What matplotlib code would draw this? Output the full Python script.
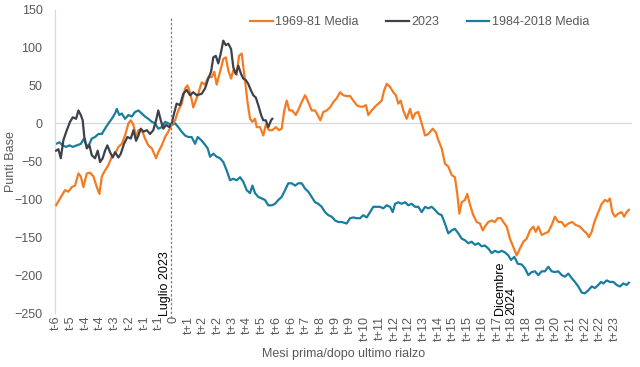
import matplotlib
matplotlib.use("Agg")
import matplotlib.pyplot as plt

plt.rcParams['font.family'] = ['Liberation Sans', 'DejaVu Sans']

# x positions are in tick-label units (0 = "t-6", 38 = "t+23")
tick_labels = ["t-6", "t-5", "t-4", "t-4", "t-3", "t-2", "t-1", "t-1", "0",
               "t+1", "t+2", "t+2", "t+3", "t+4", "t+5", "t+6", "t+6", "t+7",
               "t+8", "t+9", "t+9", "t+10", "t+11", "t+12", "t+12", "t+13",
               "t+14", "t+15", "t+15", "t+16", "t+17", "t+18", "t+18", "t+19",
               "t+20", "t+21", "t+22", "t+22", "t+23"]

orange_x = [0.00, 0.27, 0.61, 0.84, 1.07, 1.29, 1.52, 1.68, 1.86, 2.09, 2.31, 2.54, 2.77, 2.95,
            3.11, 3.33, 3.56, 3.79, 4.01, 4.24, 4.47, 4.69, 4.92, 5.08, 5.26, 5.44, 5.60, 5.83,
            6.05, 6.27, 6.51, 6.80, 6.95, 7.19, 7.41, 7.63, 7.86, 8.09, 8.31, 8.54, 8.77, 8.93,
            9.11, 9.33, 9.57, 9.67, 9.90, 10.13, 10.35, 10.58, 10.76, 10.92, 11.15, 11.37, 11.54,
            11.71, 11.90, 12.05, 12.28, 12.44, 12.62, 12.73, 12.90, 13.03, 13.19, 13.35, 13.53,
            13.64, 13.87, 14.09, 14.26, 14.48, 14.70, 14.94, 15.16, 15.34, 15.52, 15.68, 15.86,
            16.06, 16.30, 16.52, 16.70, 16.93, 17.15, 17.38, 17.61, 17.79, 17.97, 18.17, 18.40,
            18.63, 18.85, 19.08, 19.31, 19.53, 19.76, 19.99, 20.21, 20.44, 20.67, 20.89, 21.07,
            21.23, 21.46, 21.69, 21.91, 22.14, 22.30, 22.48, 22.71, 22.93, 23.11, 23.27, 23.43,
            23.61, 23.84, 24.07, 24.25, 24.41, 24.63, 24.86, 25.09, 25.31, 25.61, 25.83, 25.99,
            26.22, 26.44, 26.67, 26.90, 27.12, 27.28, 27.42, 27.58, 27.80, 27.96, 28.14, 28.37,
            28.60, 28.82, 29.01, 29.23, 29.39, 29.62, 29.84, 30.03, 30.25, 30.41, 30.64, 30.86,
            31.09, 31.32, 31.54, 31.77, 32.00, 32.22, 32.45, 32.61, 32.79, 33.02, 33.24, 33.47,
            33.70, 33.92, 34.15, 34.38, 34.60, 34.83, 35.10, 35.33, 35.62, 35.85, 36.08, 36.23,
            36.42, 36.60, 36.87, 37.10, 37.32, 37.50, 37.66, 37.82, 38.00, 38.22, 38.45, 38.63,
            38.79, 38.95]
orange_y = [-108, -99, -88, -90, -84, -82, -66, -70, -84, -66, -65, -70, -84, -93,
            -70, -62, -55, -44, -40, -31, -27, -16, 0, 4, -2, -18, -9, -9,
            -20, -29, -33, -46, -38, -29, -18, -11, -2, 4, 17, 26, 46, 50,
            41, 21, 34, 39, 54, 51, 61, 61, 68, 51, 68, 85, 87,
            70, 59, 70, 64, 89, 92, 75, 48, 26, 6, 2, 6,
            -5, -5, -16, -2, -9, -9, -5, -9, -7, 17, 30, 17,
            17, 11, 20, 28, 37, 28, 17, 17, 11, 4, 15, 17,
            21, 28, 33, 41, 37, 36, 36, 30, 24, 22, 22, 24,
            11, 17, 22, 26, 30, 43, 52, 48, 41, 37, 26, 30,
            17, 6, 19, 6, 13, 15, 0, -16, -14, -7, -12, -22,
            -33, -53, -57, -68, -71, -93, -119, -104, -101, -93, -107, -121,
            -130, -132, -141, -134, -130, -128, -130, -125, -125, -130, -136, -152,
            -163, -174, -165, -156, -152, -141, -136, -143, -136, -147, -145, -143,
            -134, -123, -130, -130, -136, -132, -130, -134, -136, -141, -145, -150,
            -143, -130, -117, -106, -101, -103, -99, -117, -123, -119, -117, -123,
            -117, -114]

gray_x = [0.00, 0.16, 0.32, 0.50, 0.73, 0.95, 1.14, 1.36, 1.52, 1.68, 1.81, 1.92, 2.09, 2.27,
          2.43, 2.65, 2.83, 2.99, 3.17, 3.33, 3.49, 3.67, 3.85, 4.01, 4.24, 4.40, 4.62, 4.85,
          5.08, 5.26, 5.44, 5.60, 5.76, 5.94, 6.17, 6.39, 6.61, 6.80, 6.95, 7.12, 7.29, 7.48,
          7.70, 7.86, 8.02, 8.20, 8.43, 8.65, 8.88, 9.11, 9.33, 9.57, 9.90, 10.13, 10.35, 10.54,
          10.69, 10.86, 11.03, 11.22, 11.37, 11.54, 11.71, 11.90, 12.05, 12.22, 12.39, 12.58,
          12.73, 12.90, 13.07, 13.26, 13.41, 13.58, 13.75, 13.94, 14.09, 14.26, 14.43, 14.62,
          14.70]
gray_y = [-36, -34, -46, -22, -9, 2, 8, 6, 17, 11, 4, -18, -33, -29,
          -42, -46, -36, -51, -46, -36, -29, -38, -45, -38, -45, -40, -27, -18,
          -20, -9, -23, -16, -7, -11, -9, -14, -9, 4, 17, 4, -7, -2,
          -5, 0, 13, 26, 24, 39, 44, 37, 41, 37, 39, 46, 59, 68,
          87, 89, 79, 94, 109, 103, 105, 98, 74, 65, 76, 65,
          59, 57, 52, 43, 37, 34, 24, 11, 4, 4, -5, 4,
          6]

teal_x = [0.00, 0.23, 0.45, 0.68, 0.91, 1.14, 1.41, 1.68, 1.90, 2.09, 2.27, 2.43, 2.65, 2.88,
          3.11, 3.33, 3.56, 3.79, 4.01, 4.13, 4.30, 4.47, 4.69, 4.92, 5.15, 5.37, 5.60, 5.83,
          6.05, 6.27, 6.51, 6.73, 6.95, 7.19, 7.41, 7.63, 7.86, 8.09, 8.31, 8.54, 8.77, 8.99,
          9.22, 9.45, 9.63, 9.86, 10.08, 10.31, 10.47, 10.69, 10.92, 11.15, 11.37, 11.60, 11.83,
          12.05, 12.28, 12.51, 12.73, 12.96, 13.19, 13.35, 13.53, 13.75, 13.98, 14.21, 14.43,
          14.66, 14.89, 15.11, 15.34, 15.57, 15.79, 16.02, 16.25, 16.47, 16.70, 16.93, 17.15,
          17.38, 17.61, 17.83, 18.06, 18.29, 18.51, 18.74, 18.97, 19.19, 19.42, 19.76, 19.99,
          20.21, 20.44, 20.67, 20.89, 21.12, 21.35, 21.57, 21.80, 22.03, 22.25, 22.48, 22.71,
          22.89, 23.05, 23.27, 23.50, 23.73, 23.95, 24.18, 24.41, 24.63, 24.86, 25.09, 25.31,
          25.54, 25.76, 25.99, 26.22, 26.44, 26.67, 26.90, 27.12, 27.35, 27.58, 27.80, 28.03,
          28.26, 28.48, 28.71, 28.94, 29.16, 29.39, 29.62, 29.84, 30.07, 30.30, 30.52, 30.75,
          30.93, 31.16, 31.39, 31.66, 31.88, 32.11, 32.34, 32.56, 32.79, 33.02, 33.24, 33.47,
          33.70, 33.92, 34.15, 34.38, 34.60, 34.83, 35.06, 35.28, 35.51, 35.74, 35.96, 36.19,
          36.42, 36.64, 36.87, 37.05, 37.21, 37.44, 37.66, 37.89, 38.12, 38.34, 38.57, 38.79,
          38.95]
teal_y = [-27, -25, -29, -31, -29, -31, -29, -27, -20, -31, -27, -20, -18, -14,
          -14, -7, 0, 6, 13, 19, 11, 13, 6, 11, 9, 15, 17, 13,
          9, 6, 2, 0, -7, -5, 2, 0, -2, 0, -5, -11, -16, -18,
          -18, -27, -18, -22, -27, -33, -44, -40, -44, -46, -51, -62, -75,
          -73, -75, -71, -77, -88, -92, -82, -92, -97, -99, -101, -108,
          -108, -106, -101, -97, -88, -79, -79, -82, -79, -79, -86, -90,
          -97, -104, -106, -110, -117, -121, -123, -128, -130, -130, -132, -125,
          -124, -125, -125, -121, -124, -117, -110, -110, -110, -112, -108, -110,
          -117, -106, -104, -106, -104, -108, -106, -110, -110, -117, -110, -112,
          -110, -114, -119, -121, -132, -145, -141, -139, -145, -152, -154, -158,
          -156, -160, -158, -162, -161, -165, -171, -168, -170, -168, -170, -174,
          -180, -176, -185, -186, -191, -200, -196, -195, -200, -195, -195, -189,
          -195, -196, -195, -200, -202, -198, -204, -209, -215, -223, -224, -220,
          -215, -217, -213, -209, -211, -207, -209, -209, -213, -215, -211, -213,
          -210]

series_names = ["1969-81 Media", "2023", "1984-2018 Media"]
colors = ["#F47B20", "#3D414C", "#187D9E"]

event_x = 7.82          # "Luglio 2023" marker
dec_label_x = 30.56     # "Dicembre 2024" label position

FS = 9
fig = plt.figure(figsize=(6.4, 3.67), dpi=100)
ax = fig.add_axes([0.086, 0.147, 0.9015, 0.827])

ax.axhline(0, color="#D9D9D9", lw=0.9, zorder=1)
l1, = ax.plot(orange_x, orange_y, color=colors[0], lw=1.6, zorder=3)
l2, = ax.plot(gray_x, gray_y, color=colors[1], lw=1.6, zorder=4)
l3, = ax.plot(teal_x, teal_y, color=colors[2], lw=1.6, zorder=2)

ax.set_xlim(-0.07, 39.16)
ax.set_ylim(-250, 150)
ax.set_yticks(range(-250, 151, 50))
ax.set_xticks(range(len(tick_labels)))
ax.set_xticklabels(tick_labels, rotation=90)
ax.tick_params(axis="both", length=0, labelsize=FS, labelcolor="#595959")
ax.tick_params(axis="x", pad=2)
ax.tick_params(axis="y", pad=9)

for s in ["top", "right", "bottom"]:
    ax.spines[s].set_visible(False)
ax.spines["left"].set_color("#D9D9D9")
ax.spines["left"].set_linewidth(0.9)

ax.plot([event_x, event_x], [139, -257], ls=(0, (2, 1.5)), color="#7F7F7F", lw=0.9,
        clip_on=False, zorder=5)
ax.text(event_x - 0.38, -254, "Luglio 2023", rotation=90, ha="center", va="bottom",
        fontsize=FS, color="black", clip_on=False)
ax.text(dec_label_x, -253, "Dicembre\n2024", rotation=90, ha="center", va="bottom",
        fontsize=FS, color="black", linespacing=1.0, multialignment="left")

ax.set_ylabel("Punti Base", fontsize=FS, color="#595959")
ax.yaxis.set_label_coords(-0.066, 0.5)
ax.set_xlabel("Mesi prima/dopo ultimo rialzo", fontsize=FS, color="#595959", labelpad=5)

leg = fig.legend([l1, l2, l3], series_names, loc="center", bbox_to_anchor=(0.656, 0.94),
                 ncol=3, frameon=False, fontsize=FS, handlelength=1.8, handletextpad=0.2,
                 columnspacing=2.2)
for t in leg.get_texts():
    t.set_color("#595959")

fig.savefig("out.png", dpi=100)
